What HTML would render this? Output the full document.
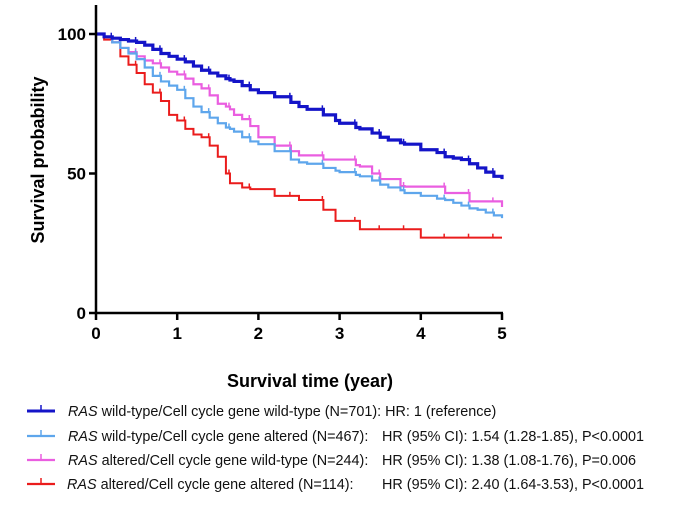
<!DOCTYPE html>
<html><head><meta charset="utf-8"><style>
body{margin:0;background:#fff;width:679px;height:515px;overflow:hidden}
svg text{font-family:"Liberation Sans",sans-serif}
</style></head><body>
<svg width="679" height="515">
<g id="plot"></g>
<text x="310" y="387" text-anchor="middle" font-size="18" font-weight="bold">Survival time (year)</text>
<text transform="translate(44,160) rotate(-90)" text-anchor="middle" font-size="18" font-weight="bold">Survival probability</text>
<g id="legend" font-size="14.4" fill="#111"></g>
</svg>
<script>
const times=[0,0.1,0.2,0.3,0.4,0.5,0.6,0.7,0.8,0.9,1.0,1.1,1.2,1.3,1.4,1.5,1.6,1.65,1.7,1.8,1.9,2.0,2.2,2.4,2.5,2.6,2.8,2.95,3.0,3.2,3.25,3.4,3.5,3.6,3.75,3.8,4.0,4.2,4.3,4.4,4.5,4.6,4.7,4.8,4.9,5.0];
const blueVals=[100,99,98.5,98,97.5,97,96,94.5,93,92,91,90,88.5,87,86,85,84,83.5,83,81.5,80,79,77.5,75.5,74,73,71,69,68,66.5,66,64.5,63,62,61,60.5,58.5,57.5,56,55.5,55,53.5,52,50.5,49,48];
const lightVals=[100,99,97,95,93,91,88,85,83,81.5,80,77,74,72,70,68,66.5,66,65,63,61.5,60.5,58,55,54,53.5,52,51,50.5,49.5,49,47.5,46,45,44,43,42,41,40.5,39.5,38.5,37.5,37,36,35,34];
const magentaVals=[100,99,97,95,93.5,92,90.5,89.5,88,86.5,85.5,84,82,80.5,78,75,74,73,71,69.5,67,63,60,58,56.5,56.5,55,55,55,53,52.5,50,48,48,45.5,45.3,45.3,45.3,43,43,43,40,40,40,40,38];
const redVals=[100,98,97,92,89,86,82,79,76,71,69,66,64,63,60,56,50,46.5,46.5,45,44.4,44.4,42,42,40.5,40.5,37,33,33,33,30,30,30,30,30,30,27,27,27,27,27,27,27,27,27,27];
const xTicks=[0,1,2,3,4,5];
const yTicks=[0,50,100];
const seriesNames=["rasWT-ccWT","rasWT-ccAlt","rasAlt-ccWT","rasAlt-ccAlt"];
const seriesColors=["#1414c8","#5ea6ec","#ea5ee0","#ea1c1c"];
const legendLabels=["wild-type/Cell cycle gene wild-type (N=701): HR: 1 (reference)","wild-type/Cell cycle gene altered (N=467):","altered/Cell cycle gene wild-type (N=244):","altered/Cell cycle gene altered (N=114):"];
const legendHR=["","HR (95% CI): 1.54 (1.28-1.85), P<0.0001","HR (95% CI): 1.38 (1.08-1.76), P=0.006","HR (95% CI): 2.40 (1.64-3.53), P<0.0001"];

const NS="http://www.w3.org/2000/svg";
const X0=96,X1=502,Y0=313,Y100=34;
const xs=t=>X0+(X1-X0)*t/5;
const ys=v=>Y0-(Y0-Y100)*v/100;
function mk(tag,attrs,parent){const e=document.createElementNS(NS,tag);for(const k in attrs)e.setAttribute(k,attrs[k]);parent.appendChild(e);return e;}
const plot=document.getElementById('plot');
const all=[blueVals,lightVals,magentaVals,redVals];
const widths=[3.2,2.2,2.2,2];
for(let s=3;s>=0;s--){
  const v=all[s];let d="M"+xs(times[0])+","+ys(v[0]);
  for(let i=1;i<times.length;i++){d+=" H"+xs(times[i])+" V"+ys(v[i]);}
  const p=mk('path',{d:d,fill:"none",stroke:seriesColors[s],"stroke-width":widths[s]},plot);
  
  
  for(let i=2;i<times.length;i+=3){
    const c=mk('line',{x1:xs(times[i])-1,x2:xs(times[i])-1,y1:ys(v[i-1])-4,y2:ys(v[i-1]),stroke:seriesColors[s],"stroke-width":1.5},plot);
    
    
  }
}
const ax=mk('path',{d:`M${X0},5 V${Y0} H${X1+1}`,fill:"none",stroke:"#000","stroke-width":2.5},plot);


xTicks.forEach(t=>{
  const l=mk('line',{x1:xs(t),x2:xs(t),y1:Y0,y2:Y0+7,stroke:"#000","stroke-width":2.5},plot);
  
  
  const tx=mk('text',{x:xs(t),y:Y0+26,"text-anchor":"middle","font-size":17,"font-weight":"bold"},plot);
  tx.textContent=t;
  
  
});
yTicks.forEach(t=>{
  const l=mk('line',{x1:X0-7,x2:X0,y1:ys(t),y2:ys(t),stroke:"#000","stroke-width":2.5},plot);
  
  
  const tx=mk('text',{x:X0-10,y:ys(t)+6,"text-anchor":"end","font-size":17,"font-weight":"bold"},plot);
  tx.textContent=t;
  
  
});
const lg=document.getElementById('legend');
const rowY=[416,441,465,489];
for(let i=0;i<4;i++){
  const y=rowY[i];
  const g=mk('g',{},lg);
  
  
  mk('line',{x1:27,x2:55,y1:y-5,y2:y-5,stroke:seriesColors[i],"stroke-width":i==0?3:2.2},g);
  mk('line',{x1:41,x2:41,y1:y-11,y2:y-5,stroke:seriesColors[i],"stroke-width":1.5},g);
  const t=mk('text',{x:i==3?67:68,y:y},g);
  const it=mk('tspan',{"font-style":"italic"},t);it.textContent="RAS";
  const r=mk('tspan',{},t);r.textContent=" "+legendLabels[i];
  if(legendHR[i]){const h=mk('text',{x:382,y:y},g);h.textContent=legendHR[i];}
}
</script>
</body></html>
